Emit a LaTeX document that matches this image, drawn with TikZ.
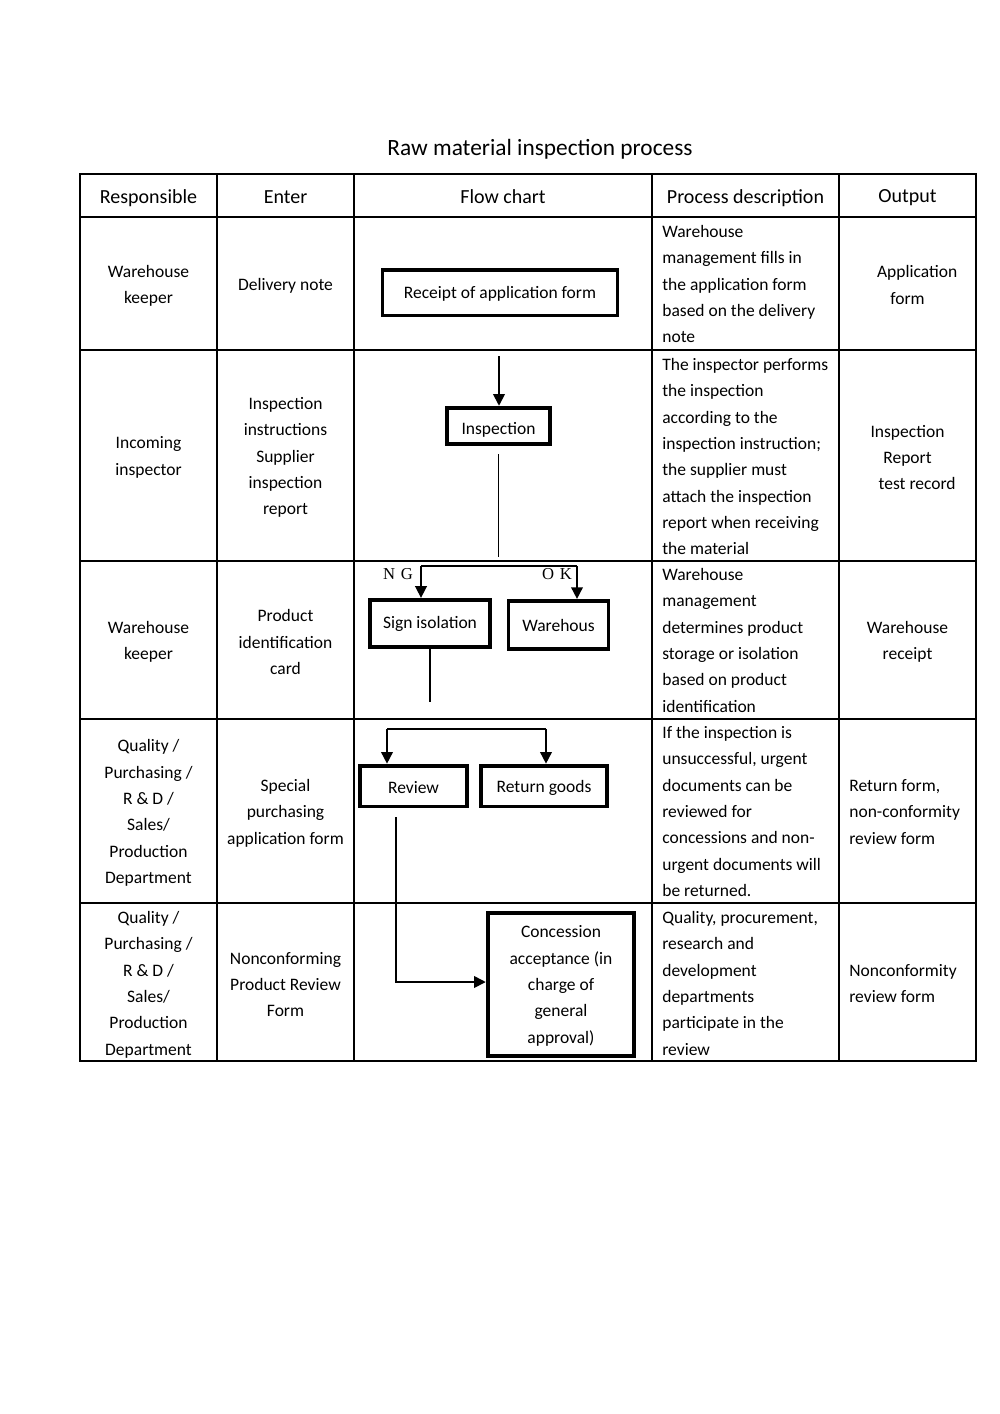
\documentclass[tikz,border=0pt]{standalone}
\usepackage{fontspec}
\setmainfont{Carlito}
\newfontfamily\ngfont{Liberation Serif}
\usetikzlibrary{arrows.meta}
\begin{document}
\begin{tikzpicture}[x=0.6pt,y=-0.6pt,
  grid/.style={line width=0.9pt},
  cell/.style={align=center,inner sep=0pt,font=\fontsize{10.5}{15.8}\selectfont},
  desc/.style={align=left,anchor=north west,inner sep=0pt,font=\fontsize{10.5}{15.8}\selectfont},
  head/.style={inner sep=0pt,font=\fontsize{12}{14}\selectfont},
  flowbox/.style={draw,line width=2.3pt,inner sep=0pt,align=center,font=\fontsize{10.5}{15.8}\selectfont},
  arr/.style={line width=1pt,-{Triangle[length=7pt,width=7pt]}},
  ln/.style={line width=1pt},
  lbl/.style={inner sep=0pt,font=\ngfont\fontsize{10}{12}\selectfont}]
\useasboundingbox (0,0) rectangle (1000,1414);

% title
\node[inner sep=0pt,font=\fontsize{14}{16}\selectfont] (title) at (540,149) {Raw material inspection process};

% table grid
\draw[grid] (80,174) rectangle (976,1061);
\foreach \x in {217,354,652,839} \draw[grid] (\x,174) -- (\x,1061);
\foreach \y in {217,350,561,719,903} \draw[grid] (80,\y) -- (976,\y);

% header
\node[head] (h1) at (148.5,198) {Responsible};
\node[head] (h2) at (285.5,197) {Enter};
\node[head] (h3) at (503,197) {Flow chart};
\node[head] (h4) at (745.5,198) {Process description};
\node[head] (h5) at (907.5,198) {Output};

% responsible
\node[cell] (r1) at (148.5,285.5) {Warehouse\\keeper};
\node[cell] (r2) at (148.5,457.5) {Incoming\\inspector};
\node[cell] (r3) at (148.5,642) {Warehouse\\keeper};
\node[cell] (r4) at (148.5,813) {Quality /\\Purchasing /\\R \& D /\\Sales/\\Production\\Department};
\node[cell] (r5) at (148.5,984.5) {Quality /\\Purchasing /\\R \& D /\\Sales/\\Production\\Department};

% enter
\node[cell] (e1) at (285.5,285.5) {Delivery note};
\node[cell] (e2) at (285.5,457.5) {Inspection\\instructions\\Supplier\\inspection\\report};
\node[cell] (e3) at (285.5,642) {Product\\identification\\card};
\node[cell] (e4) at (285.5,813) {Special\\purchasing\\application form};
\node[cell] (e5) at (285.5,984.5) {Nonconforming\\Product Review\\Form};

% description
\node[desc] (d1) at (662,225) {Warehouse\\management fills in\\the application form\\based on the delivery\\note};
\node[desc] (d2) at (662,358) {The inspector performs\\the inspection\\according to the\\inspection instruction;\\the supplier must\\attach the inspection\\report when receiving\\the material};
\node[desc] (d3) at (662,568) {Warehouse\\management\\determines product\\storage or isolation\\based on product\\identification};
\node[desc] (d4) at (662,726) {If the inspection is\\unsuccessful, urgent\\documents can be\\reviewed for\\concessions and non-\\urgent documents will\\be returned.};
\node[desc] (d5) at (662,911) {Quality, procurement,\\research and\\development\\departments\\participate in the\\review};

% output
\node[cell] (o1) at (907.5,285) {\hspace*{1.1em}Application\\form};
\node[cell] (o2) at (907.5,457.5) {Inspection\\Report\\\hspace*{1.1em}test record};
\node[cell] (o3) at (907.5,641.5) {Warehouse\\receipt};
\node[cell,align=left,anchor=west] (o4) at (849,812) {Return form,\\non-conformity\\review form};
\node[cell,align=left,anchor=west] (o5) at (849,983.5) {Nonconformity\\review form};

% flow chart boxes
\node[flowbox,minimum width=141pt,minimum height=27.5pt,text height=8.5pt] (receipt) at (500,292.5) {Receipt of application form};
\node[flowbox,minimum width=62pt,minimum height=22pt,text height=11.4pt] (insp) at (498.5,426) {Inspection};
\node[flowbox,minimum width=72pt,minimum height=28.5pt] (sign) at (430,623.5) {Sign isolation};
\node[flowbox,minimum width=60pt,minimum height=29pt] (wh) at (558.5,625) {Warehous};
\node[flowbox,minimum width=64.5pt,minimum height=24.5pt,text height=9.2pt] (review) at (413.5,786) {Review};
\node[flowbox,minimum width=76pt,minimum height=24.5pt,text height=9.4pt] (ret) at (544,786) {Return goods};
\node[flowbox,minimum width=88pt,minimum height=86pt,text depth=0pt] (conc) at (561,984.5) {Concession\\acceptance (in\\charge of\\general\\approval)};

% labels
\node[lbl] (ng) at (398,574) {N\,\,G};
\node[lbl] (ok) at (557,574) {O\,\,K};

% connectors
\coordinate (a0) at (499,356);
\draw[arr] (a0) -- (a0 |- insp.north);
\coordinate (b1) at (498.5,454);
\coordinate (b2) at (498.5,557);
\draw[ln] (b1) -- (b2);
\coordinate (ngc) at (421,566);
\coordinate (okc) at (577,566);
\draw[ln] (ngc) -- (okc);
\draw[arr] (ngc) -- (ngc |- sign.north);
\draw[arr] (okc) -- (okc |- wh.north);
\coordinate (s1) at (430,702);
\draw[ln] (sign.south) -- (s1);
\coordinate (rvl) at (387,729);
\coordinate (rtl) at (546,729);
\draw[ln] (rvl) -- (rtl);
\draw[arr] (rvl) -- (rvl |- review.north);
\draw[arr] (rtl) -- (rtl |- ret.north);
\coordinate (c1) at (396,817);
\coordinate (c2) at (396,982);
\draw[arr] (c1) -- (c2) -- (c2 -| conc.west);
\end{tikzpicture}
\end{document}
